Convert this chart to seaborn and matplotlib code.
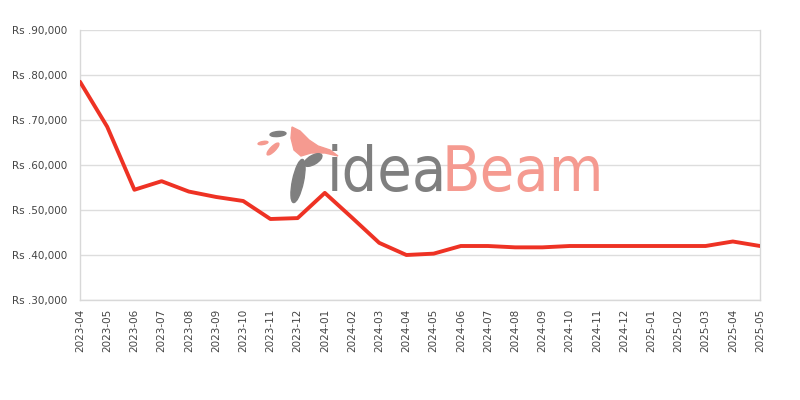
import pandas as pd
import matplotlib.pyplot as plt
import matplotlib.patches as mpatches
from matplotlib.transforms import IdentityTransform
import seaborn as sns

# ========================
# Data
# ========================
months = ['2023-04', '2023-05', '2023-06', '2023-07', '2023-08', '2023-09', '2023-10',
          '2023-11', '2023-12', '2024-01', '2024-02', '2024-03', '2024-04', '2024-05',
          '2024-06', '2024-07', '2024-08', '2024-09', '2024-10', '2024-11', '2024-12',
          '2025-01', '2025-02', '2025-03', '2025-04', '2025-05']
prices = [78500, 68500, 54500, 56400, 54100, 52900, 52000,
          48000, 48200, 53800, 48300, 42700, 40000, 40300,
          42000, 42000, 41700, 41700, 42000, 42000, 42000,
          42000, 42000, 42000, 43000, 42000]
y_ticks = [30000, 40000, 50000, 60000, 70000, 80000, 90000]

df = pd.DataFrame({'month': months, 'price': prices})
df['idx'] = range(len(df))

# ========================
# Style
# ========================
sns.set_style("white")
plt.rcParams['font.family'] = ['DejaVu Sans']

fig = plt.figure(figsize=(8, 4), dpi=100)
ax = fig.add_axes([0.1, 0.25, 0.85, 0.675])

# ========================
# Watermark (rough logo + text)
# ========================
px = IdentityTransform()  # display pixels, origin bottom-left
H = 400

def P(x, y):
    return (x, H - y)

bird = [P(292, 127), P(300, 131), P(309, 140), P(318, 146), P(330, 150), P(338, 156),
        P(325, 153), P(311, 153), P(301, 156), P(294, 150), P(291, 138)]
fig.patches.append(mpatches.Polygon(bird, closed=True, color='#f59a90', transform=px))
fig.patches.append(mpatches.Ellipse(P(278, 134), 16, 5, angle=5, color='#7f7f7f', transform=px))
fig.patches.append(mpatches.Ellipse(P(263, 143), 10, 3, angle=10, color='#f59a90', transform=px))
fig.patches.append(mpatches.Ellipse(P(273, 149), 16, 5, angle=45, color='#f59a90', transform=px))
fig.patches.append(mpatches.Ellipse(P(298, 181), 11, 44, angle=-12, color='#7f7f7f', transform=px))
fig.patches.append(mpatches.Ellipse(P(313, 160), 20, 9, angle=30, color='#7f7f7f', transform=px))

wm = dict(fontsize=45, ha='left', va='baseline', family='DejaVu Sans', fontstretch='condensed')
fig.text(0.408, 0.523, 'idea', color='#7f7f7f', **wm)
fig.text(0.552, 0.523, 'Beam', color='#f59a90', **wm)

sns.lineplot(data=df, x='idx', y='price', color='#ee3224', linewidth=2.8, ax=ax, zorder=3)

ax.set_xlim(0, len(months) - 1)
ax.set_ylim(30000, 90000)
ax.set_xticks(df['idx'])
ax.set_xticklabels(months, rotation=90, fontsize=7.5, color='#444444')
ax.set_yticks(y_ticks)
ax.set_yticklabels([f'Rs .{v:,}' for v in y_ticks], fontsize=7.5, color='#444444')
ax.set_xlabel('')
ax.set_ylabel('')
ax.grid(axis='y', color='#dddddd', linewidth=1)
ax.set_axisbelow(True)
ax.tick_params(axis='y', length=0, pad=9)
ax.tick_params(axis='x', length=0, pad=6)
for side in ['left', 'bottom', 'right']:
    ax.spines[side].set_color('#d8d8d8')
    ax.spines[side].set_linewidth(1)
ax.spines['top'].set_visible(False)

plt.savefig('out.png', dpi=100)
plt.close()
